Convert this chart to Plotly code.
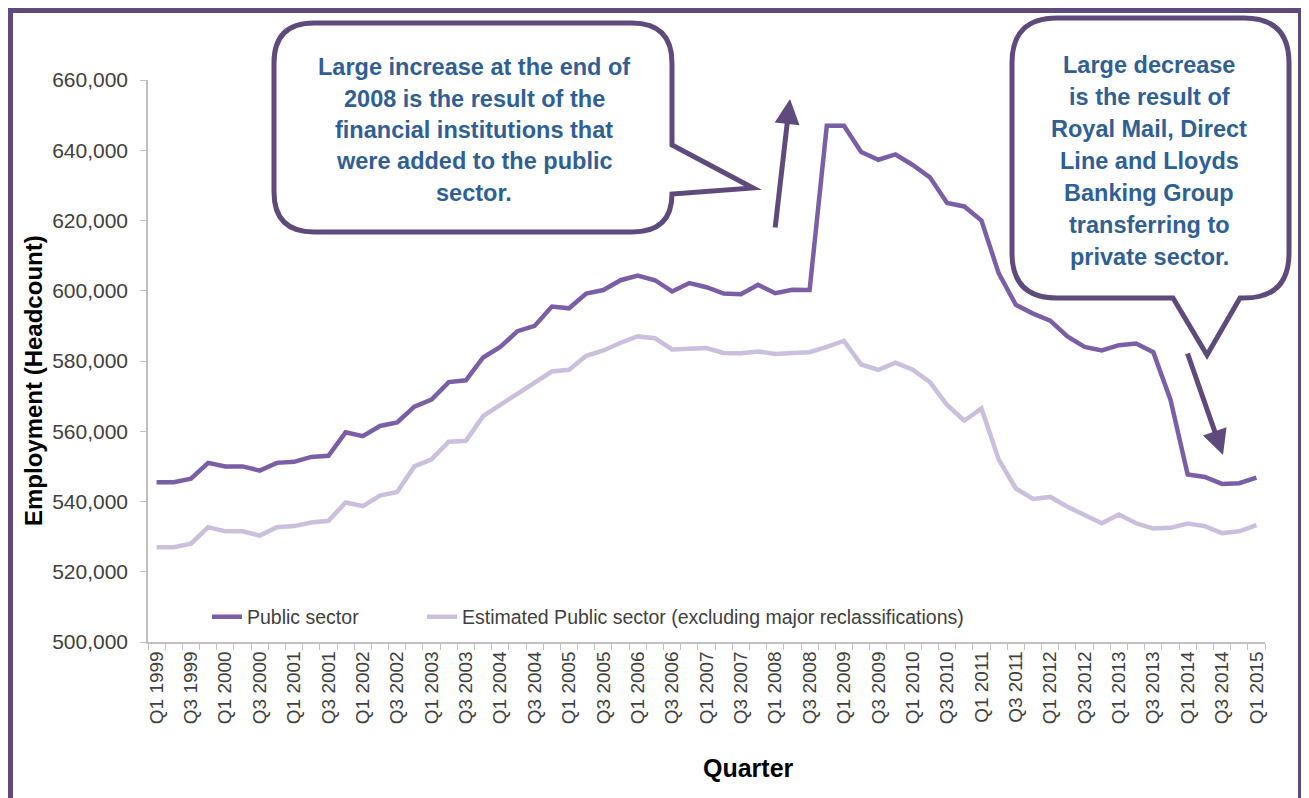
import plotly.graph_objects as go

# ---------------- data ----------------
quarters = [f"Q{q} {y}" for y in range(1999, 2016) for q in (1, 2, 3, 4)][:65]

public_sector = [
    545500, 545500, 546500, 551000,   # 1999
    550000, 550000, 548800, 551000,   # 2000
    551300, 552700, 553000, 559700,   # 2001
    558600, 561500, 562500, 567000,   # 2002
    569000, 574000, 574500, 581000,   # 2003
    584000, 588500, 590000, 595500,   # 2004
    595000, 599200, 600200, 603000,   # 2005
    604300, 603000, 599800, 602200,   # 2006
    601000, 599200, 599000, 601700,   # 2007
    599300, 600300, 600200, 647000,   # 2008
    647000, 639500, 637300, 638800,   # 2009
    635800, 632300, 625000, 624000,   # 2010
    620000, 605000, 596000, 593500,   # 2011
    591500, 587000, 584000, 583000,   # 2012
    584500, 585000, 582500, 569000,   # 2013
    547700, 547000, 545000, 545200,   # 2014
    546800,                           # 2015
]

estimated_public = [
    527000, 527000, 528000, 532700,
    531500, 531500, 530300, 532700,
    533000, 534000, 534500, 539700,
    538700, 541700, 542700, 550000,
    552000, 557000, 557300, 564300,
    567500, 570700, 573700, 577000,
    577500, 581500, 583000, 585200,
    587000, 586500, 583300, 583500,
    583700, 582300, 582200, 582700,
    582000, 582300, 582500, 584000,
    585700, 579000, 577500, 579500,
    577500, 574000, 567500, 563000,
    566500, 552000, 543700, 540700,
    541300, 538500, 536000, 533800,
    536300, 533800, 532300, 532500,
    533700, 533000, 531000, 531500,
    533300,
]

series_names = ["Public sector",
                "Estimated Public sector (excluding major reclassifications)"]

y_ticks = list(range(500000, 660001, 20000))

callout1_lines = ["Large increase at the end of", "2008 is the result of the",
                  "financial institutions that", "were added to the public", "sector."]
callout2_lines = ["Large decrease", "is the result of", "Royal Mail, Direct",
                  "Line and Lloyds", "Banking Group", "transferring to", "private sector."]

# ---------------- layout geometry ----------------
# positions below are in screen pixels; the page body adds an 8px offset
OFF = 8
W, H = 1309 - OFF, 798 - OFF
L, R, T, B = 148, 1265, 80, 642          # plot area in screen pixels
PW, PH = R - L, B - T

def px(x):
    return (x - L) / PW

def py(y):
    return (B - y) / PH

DARK = "#7a5fa7"
LIGHT = "#cbbfdd"
FRAME = "#5f4a7c"
TEXTBLUE = "#2f5f95"

idx = list(range(len(quarters)))

fig = go.Figure()
fig.add_trace(go.Scatter(x=idx, y=public_sector, mode="lines", name=series_names[0],
                         line=dict(color=DARK, width=4.5), legend="legend"))
fig.add_trace(go.Scatter(x=idx, y=estimated_public, mode="lines", name=series_names[1],
                         line=dict(color=LIGHT, width=4.5), legend="legend2"))

shapes = []
# outer frame
shapes.append(dict(type="rect", xref="paper", yref="paper",
                   x0=px(10), x1=px(1301), y0=py(815), y1=py(10),
                   line=dict(color=FRAME, width=6), fillcolor="rgba(0,0,0,0)", layer="above"))

def P(x, y):
    return f"{px(x):.5f},{py(y):.5f}"

# callout 1 (pointer on right side)
l, r_, t, b, rad = 274, 672, 23, 232, 40
path1 = (f"M{P(l+rad,t)} L{P(r_-rad,t)} Q{P(r_,t)} {P(r_,t+rad)} L{P(r_,145)} "
         f"L{P(753,188)} L{P(r_,194)} Q{P(r_,b)} {P(r_-rad,b)} L{P(l+rad,b)} "
         f"Q{P(l,b)} {P(l,b-rad)} L{P(l,t+rad)} Q{P(l,t)} {P(l+rad,t)} Z")
shapes.append(dict(type="path", xref="paper", yref="paper", path=path1,
                   line=dict(color=FRAME, width=5), fillcolor="white", layer="above"))

# callout 2 (pointer on bottom)
l, r_, t, b, rad = 1012, 1289, 18, 298, 45
path2 = (f"M{P(l+rad,t)} L{P(r_-rad,t)} Q{P(r_,t)} {P(r_,t+rad)} L{P(r_,b-rad)} "
         f"Q{P(r_,b)} {P(r_-rad,b)} L{P(1240,b)} L{P(1207,355)} L{P(1173,b)} "
         f"L{P(l+rad,b)} Q{P(l,b)} {P(l,b-rad)} L{P(l,t+rad)} Q{P(l,t)} {P(l+rad,t)} Z")
shapes.append(dict(type="path", xref="paper", yref="paper", path=path2,
                   line=dict(color=FRAME, width=5), fillcolor="white", layer="above"))

annotations = []
cfont = dict(family="Liberation Sans", size=23.5, color=TEXTBLUE)
for i, line in enumerate(callout1_lines):
    annotations.append(dict(xref="paper", yref="paper", x=px(474), y=py(67 + i * 31.5),
                            text=f"<b>{line}</b>", showarrow=False, font=cfont,
                            xanchor="center", yanchor="middle"))
for i, line in enumerate(callout2_lines):
    annotations.append(dict(xref="paper", yref="paper", x=px(1149), y=py(65 + i * 32),
                            text=f"<b>{line}</b>", showarrow=False, font=cfont,
                            xanchor="center", yanchor="middle"))

# arrows
annotations.append(dict(xref="paper", yref="paper", x=px(790), y=py(99), ax=-15, ay=130,
                        text="", showarrow=True, arrowhead=2, arrowsize=1, arrowwidth=5,
                        arrowcolor=FRAME, standoff=0))
annotations.append(dict(xref="paper", yref="paper", x=px(1223), y=py(455), ax=-36, ay=-103,
                        text="", showarrow=True, arrowhead=2, arrowsize=1, arrowwidth=5,
                        arrowcolor=FRAME, standoff=0))

# axis titles
annotations.append(dict(xref="paper", yref="paper", x=px(33), y=py(381), text="<b>Employment (Headcount)</b>",
                        textangle=-90, showarrow=False,
                        font=dict(family="Liberation Sans", size=24, color="#000000"),
                        xanchor="center", yanchor="middle"))
annotations.append(dict(xref="paper", yref="paper", x=px(748), y=py(768), text="<b>Quarter</b>",
                        showarrow=False, font=dict(family="Liberation Sans", size=25, color="#000000"),
                        xanchor="center", yanchor="middle"))

legend_common = dict(orientation="h", xanchor="left", yanchor="middle",
                     font=dict(size=19.5, color="#404040"), bgcolor="rgba(0,0,0,0)",
                     itemwidth=30)

fig.update_layout(
    width=W, height=H,
    margin=dict(l=L - OFF, r=(W + OFF) - R, t=T - OFF, b=(H + OFF) - B, autoexpand=False),
    paper_bgcolor="white", plot_bgcolor="white",
    font=dict(family="Liberation Sans", color="#404040"),
    showlegend=True,
    legend=dict(x=px(207), y=py(617), **legend_common),
    legend2=dict(x=px(422), y=py(617), **legend_common),
    shapes=shapes,
    annotations=annotations,
)

fig.update_xaxes(
    range=[-0.5, len(quarters) - 0.5],
    tickmode="array", tickvals=idx[::2], ticktext=quarters[::2],
    tickangle=-90, ticks="", showgrid=False, zeroline=False,
    showline=True, linecolor="#c0c0c0", linewidth=1.5,
    tickfont=dict(size=19, color="#404040"),
    minor=dict(tickmode="array", tickvals=[i - 0.5 for i in range(len(quarters) + 1)],
               ticks="outside", ticklen=6, tickcolor="#c0c0c0", tickwidth=1, showgrid=False),
    automargin=False,
)
fig.update_yaxes(
    range=[500000, 660000], tickmode="array", tickvals=y_ticks,
    ticktext=[f"{v:,}" for v in y_ticks],
    ticks="outside", ticklen=6, tickcolor="#c0c0c0", showgrid=False, zeroline=False,
    showline=True, linecolor="#c0c0c0", linewidth=1.5,
    tickfont=dict(size=21, color="#404040"), ticklabelstandoff=8,
    automargin=False,
)

fig.write_html("out.html")
